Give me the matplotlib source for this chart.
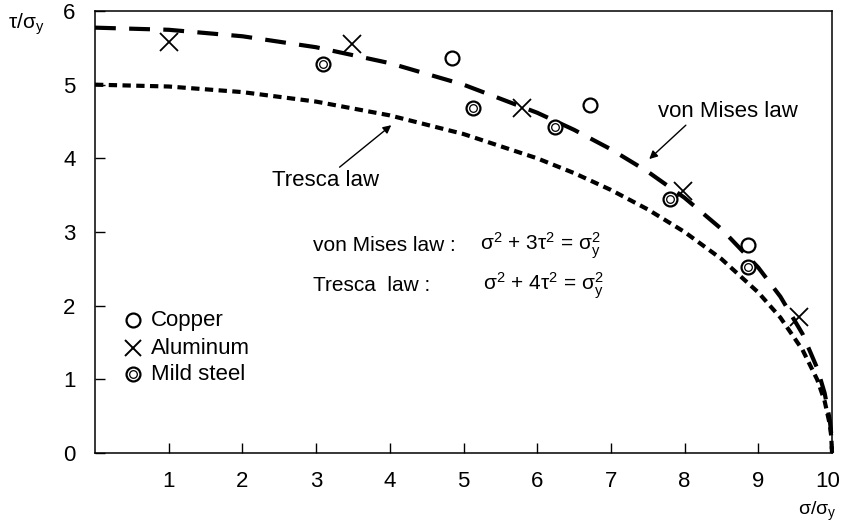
import matplotlib
matplotlib.use("Agg")
import matplotlib.pyplot as plt
import matplotlib.transforms as mtransforms

plt.rcParams['font.family'] = ['Liberation Sans', 'DejaVu Sans']
plt.rcParams['mathtext.fontset'] = 'custom'
plt.rcParams['mathtext.rm'] = 'Liberation Sans'
plt.rcParams['mathtext.it'] = 'Liberation Sans'
plt.rcParams['mathtext.bf'] = 'Liberation Sans:bold'
plt.rcParams['mathtext.default'] = 'regular'

# ---- data ----
curve_x = [0, 1, 2, 3, 4, 5, 6, 6.5, 7, 7.5, 8, 8.5, 9, 9.3, 9.6, 9.8, 9.9, 9.97, 9.99, 10]
von_mises_y = [5.774, 5.745, 5.657, 5.508, 5.292, 5.0, 4.619, 4.387, 4.123, 3.819, 3.464,
               3.041, 2.517, 2.122, 1.617, 1.149, 0.814, 0.447, 0.258, 0.0]
tresca_y = [5.0, 4.975, 4.899, 4.770, 4.583, 4.330, 4.0, 3.800, 3.571, 3.307, 3.0,
            2.634, 2.179, 1.838, 1.4, 0.995, 0.705, 0.387, 0.224, 0.0]

copper_x = [4.85, 6.72, 8.86]
copper_y = [5.36, 4.72, 2.83]
aluminum_x = [1.0, 3.49, 5.79, 7.98, 9.55]
aluminum_y = [5.58, 5.55, 4.69, 3.56, 1.84]
steel_x = [3.09, 5.13, 6.24, 7.80, 8.86]
steel_y = [5.28, 4.69, 4.42, 3.45, 2.52]

x_ticks = [1, 2, 3, 4, 5, 6, 7, 8, 9, 10]
y_ticks = [0, 1, 2, 3, 4, 5, 6]

legend_labels = ['Copper', 'Aluminum', 'Mild steel']
legend_y = [1.80, 1.42, 1.07]

# ---- figure ----
fig = plt.figure(figsize=(8.41, 5.26), dpi=100)
ax = fig.add_axes([95/841, 1 - 453/526, (832 - 95)/841, (453 - 11)/526])
ax.set_xlim(0, 10)
ax.set_ylim(0, 6)

vm, = ax.plot(curve_x, von_mises_y, color='black', lw=3.0, clip_on=False,
              solid_capstyle='butt', dash_capstyle='butt')
vm.set_dashes([5.0, 3.2])
tr, = ax.plot(curve_x, tresca_y, color='black', lw=3.0, clip_on=False,
              solid_capstyle='butt', dash_capstyle='butt')
tr.set_dashes([2.0, 1.3])

def steel_marker(xs, ys, **kw):
    ax.plot(xs, ys, ls='none', marker='o', ms=10, mfc='white', mec='black', mew=1.6, zorder=5, **kw)
    ax.plot(xs, ys, ls='none', marker='o', ms=5.5, mfc='white', mec='black', mew=0.9, zorder=6, **kw)

ax.plot(copper_x, copper_y, ls='none', marker='o', ms=10, mfc='white', mec='black', mew=1.6, zorder=5)
ax.plot(aluminum_x, aluminum_y, ls='none', marker='x', ms=12.5, mec='black', mew=1.3, zorder=5)
steel_marker(steel_x, steel_y)

# legend drawn manually
ax.plot([0.52], [legend_y[0]], ls='none', marker='o', ms=10, mfc='white', mec='black', mew=1.6)
ax.plot([0.52], [legend_y[1]], ls='none', marker='x', ms=11, mec='black', mew=1.4)
steel_marker([0.52], [legend_y[2]])
for lab, yy in zip(legend_labels, legend_y):
    ax.text(0.76, yy, lab, fontsize=16, va='center', ha='left')

# annotations
ax.annotate('von Mises law', xy=(7.52, 3.99), xytext=(7.64, 4.63), fontsize=16,
            va='center', ha='left',
            arrowprops=dict(arrowstyle='-|>', color='black', lw=1.0,
                            mutation_scale=12, shrinkA=0, shrinkB=0,
                            relpos=(0.22, 0.0)))
ax.annotate('Tresca law', xy=(4.02, 4.45), xytext=(2.40, 3.70), fontsize=16,
            va='center', ha='left',
            arrowprops=dict(arrowstyle='-|>', color='black', lw=1.0,
                            mutation_scale=12, shrinkA=0, shrinkB=0,
                            relpos=(0.6, 1.0)))

ax.text(2.96, 2.82, 'von Mises law :', fontsize=15, va='center', ha='left')
ax.text(5.22, 2.82, r'σ$^2$ + 3τ$^2$ = σ$_\mathrm{y}^2$', fontsize=15, va='center', ha='left')
ax.text(2.96, 2.27, 'Tresca  law :', fontsize=15, va='center', ha='left')
ax.text(5.26, 2.27, r'σ$^2$ + 4τ$^2$ = σ$_\mathrm{y}^2$', fontsize=15, va='center', ha='left')

# axes styling
ax.set_xticks(x_ticks)
ax.set_xticklabels([str(t) for t in x_ticks])
ax.set_yticks(y_ticks)
ax.set_yticklabels([str(t) for t in y_ticks])
ax.tick_params(direction='in', length=7, width=1.0, labelsize=16, pad=13)
ax.tick_params(axis='y', pad=14)
for s in ax.spines.values():
    s.set_linewidth(1.1)

# nudge the last x label so it stays inside the canvas
last = ax.get_xticklabels()[-1]
last.set_transform(last.get_transform() + mtransforms.ScaledTranslation(-4/100, 0, fig.dpi_scale_trans))

fig.text(8/841, 1 - 24/526, r'τ/σ$_\mathrm{y}$', fontsize=15, va='center', ha='left')
fig.text(837/841, 1 - 511/526, r'σ/σ$_\mathrm{y}$', fontsize=14, va='center', ha='right')

fig.savefig('out.png', dpi=100)
